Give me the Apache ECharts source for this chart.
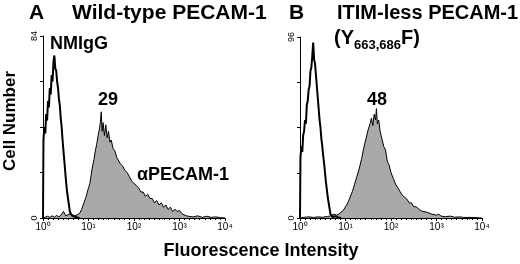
<!DOCTYPE html>
<html>
<head>
<meta charset="UTF-8">
<title>PECAM-1 flow cytometry</title>
<script src="https://cdn.jsdelivr.net/npm/echarts@6/dist/echarts.min.js"></script>
<style>
  html, body { margin: 0; padding: 0; background: #fff; }
  #chart { width: 520px; height: 264px; }
</style>
</head>
<body>
<div id="chart"></div>
<script>
// x = log10 fluorescence intensity (decades), y = cell number
const decadeLabels = ['10⁰', '10¹', '10²', '10³', '10⁴'];
const yMaxA = 84;
const yMaxB = 96;

// Panel A - wild-type PECAM-1
const nmiggA = [
  [0, 0], [0.01, 36], [0.03, 42], [0.05, 39], [0.07, 48], [0.09, 45], [0.11, 54], [0.13, 51],
  [0.15, 60], [0.17, 57], [0.19, 66], [0.21, 63], [0.23, 72], [0.25, 75], [0.27, 69], [0.29, 68],
  [0.31, 63], [0.33, 60], [0.35, 55], [0.37, 52], [0.39, 46], [0.41, 42], [0.43, 36], [0.45, 31],
  [0.47, 26], [0.49, 21], [0.51, 16], [0.53, 12], [0.55, 9], [0.57, 6], [0.59, 3], [0.61, 2],
  [0.64, 1], [0.68, 0.5], [0.75, 0.2], [0.8, 0]
];
const pecamA = [
  [0, 0], [0.05, 0.4], [0.1, 0.8], [0.15, 0.3], [0.2, 1], [0.25, 0.4], [0.3, 1.2], [0.35, 0.5],
  [0.4, 1.5], [0.45, 3], [0.5, 1], [0.55, 1.5], [0.6, 2], [0.65, 1.5], [0.7, 1], [0.75, 1.5],
  [0.8, 2], [0.85, 4], [0.9, 7], [0.95, 10], [1.0, 14], [1.03, 16], [1.06, 20], [1.09, 24],
  [1.12, 27], [1.15, 31], [1.18, 34], [1.21, 38], [1.24, 41], [1.26, 44], [1.28, 49], [1.30, 40],
  [1.32, 44], [1.35, 38], [1.38, 43], [1.41, 37], [1.44, 40], [1.47, 35], [1.50, 36], [1.54, 32],
  [1.58, 31], [1.62, 28], [1.66, 28], [1.70, 25], [1.75, 24], [1.80, 22], [1.85, 21], [1.90, 19],
  [1.95, 17], [2.00, 16], [2.05, 15], [2.10, 14], [2.15, 12], [2.20, 12], [2.25, 10], [2.30, 11],
  [2.35, 9], [2.40, 9], [2.45, 7], [2.50, 8], [2.55, 6], [2.60, 7], [2.65, 5], [2.70, 6],
  [2.75, 4], [2.80, 5], [2.85, 3], [2.90, 4], [2.95, 3], [3.00, 3.5], [3.05, 2], [3.10, 1.5],
  [3.15, 1], [3.20, 0.8], [3.30, 0.5], [3.40, 1], [3.50, 0.3], [3.60, 0.8], [3.70, 0.3],
  [3.80, 0.5], [3.90, 0.2], [4.0, 0]
];

// Panel B - ITIM-less PECAM-1
const nmiggB = [
  [0, 0], [0.01, 32], [0.03, 38], [0.05, 35], [0.07, 44], [0.09, 46], [0.11, 52], [0.13, 50],
  [0.15, 60], [0.17, 62], [0.19, 68], [0.21, 70], [0.23, 78], [0.25, 80], [0.27, 86], [0.29, 93],
  [0.31, 84], [0.33, 82], [0.35, 76], [0.37, 70], [0.39, 64], [0.41, 58], [0.43, 52], [0.45, 48],
  [0.47, 42], [0.49, 38], [0.51, 33], [0.53, 29], [0.55, 24], [0.57, 19], [0.59, 15], [0.61, 11],
  [0.63, 8], [0.65, 5], [0.67, 2], [0.69, 1], [0.72, 0.5], [0.78, 1], [0.84, 0.3], [0.9, 0]
];
const pecamB = [
  [0, 0], [0.1, 0.4], [0.2, 0.6], [0.3, 0.3], [0.4, 0.6], [0.5, 0.4], [0.6, 0.8], [0.65, 1],
  [0.7, 1.5], [0.75, 2], [0.8, 1.5], [0.85, 2], [0.9, 3], [0.95, 4], [1.0, 6], [1.05, 8],
  [1.10, 11], [1.15, 14], [1.20, 18], [1.25, 22], [1.30, 26], [1.35, 31], [1.40, 37], [1.45, 42],
  [1.50, 47], [1.54, 50], [1.57, 53], [1.60, 49], [1.63, 55], [1.66, 52], [1.68, 58], [1.70, 50],
  [1.73, 52], [1.76, 46], [1.80, 45], [1.84, 38], [1.88, 36], [1.92, 30], [1.96, 28], [2.00, 24],
  [2.05, 21], [2.10, 18], [2.15, 16], [2.20, 14], [2.25, 12], [2.30, 11], [2.35, 10], [2.40, 8],
  [2.45, 8], [2.50, 6], [2.55, 6], [2.60, 5], [2.65, 4], [2.70, 3.5], [2.80, 3], [2.90, 2],
  [3.00, 1.5], [3.05, 2], [3.10, 1], [3.20, 0.7], [3.30, 1], [3.40, 0.4], [3.50, 0.6],
  [3.60, 0.3], [3.80, 0.3], [4.0, 0]
];

const FONT = '"Liberation Sans", Arial, sans-serif';

function xAxisFor(gridIndex) {
  return {
    type: 'value', gridIndex: gridIndex, min: 0, max: 4, interval: 1,
    axisLine: { lineStyle: { color: '#000', width: 1 } },
    axisTick: { length: 3, lineStyle: { color: '#000' } },
    minorTick: { show: true, splitNumber: 9, length: 2, lineStyle: { color: '#000' } },
    axisLabel: {
      color: '#000', fontFamily: FONT, fontSize: 10, margin: 4,
      formatter: v => decadeLabels[v]
    },
    splitLine: { show: false }
  };
}
function yAxisFor(gridIndex, max) {
  return {
    type: 'value', gridIndex: gridIndex, min: 0, max: max, interval: max / 4,
    axisLine: { show: true, lineStyle: { color: '#000', width: 1 } },
    axisTick: { show: true, length: 3, lineStyle: { color: '#000' } },
    axisLabel: {
      color: '#000', fontFamily: FONT, fontSize: 9, rotate: 90, margin: 4,
      formatter: v => (v === 0 || v === max) ? String(v) : ''
    },
    splitLine: { show: false }
  };
}

const chart = echarts.init(document.getElementById('chart'), null, { renderer: 'canvas' });

const option = {
  animation: false,
  backgroundColor: '#fff',
  grid: [
    { left: 43, right: 295, top: 36, bottom: 46 },
    { left: 300, right: 38, top: 37, bottom: 46 }
  ],
  xAxis: [xAxisFor(0), xAxisFor(1)],
  yAxis: [yAxisFor(0, yMaxA), yAxisFor(1, yMaxB)],
  series: [
    {
      name: 'αPECAM-1 A', type: 'line', xAxisIndex: 0, yAxisIndex: 0, data: pecamA,
      showSymbol: false, lineStyle: { color: '#000', width: 1 },
      areaStyle: { color: '#a9a9a9', opacity: 1 }, z: 2
    },
    {
      name: 'NMIgG A', type: 'line', xAxisIndex: 0, yAxisIndex: 0, data: nmiggA,
      showSymbol: false, lineStyle: { color: '#000', width: 2 }, z: 3
    },
    {
      name: 'αPECAM-1 B', type: 'line', xAxisIndex: 1, yAxisIndex: 1, data: pecamB,
      showSymbol: false, lineStyle: { color: '#000', width: 1 },
      areaStyle: { color: '#a9a9a9', opacity: 1 }, z: 2
    },
    {
      name: 'NMIgG B', type: 'line', xAxisIndex: 1, yAxisIndex: 1, data: nmiggB,
      showSymbol: false, lineStyle: { color: '#000', width: 2 }, z: 3
    }
  ],
  graphic: [
    { type: 'text', style: { text: 'A', x: 29, y: 13, font: 'bold 21px ' + FONT, fill: '#000', textVerticalAlign: 'middle' } },
    { type: 'text', style: { text: 'Wild-type PECAM-1', x: 72, y: 13, font: 'bold 21px ' + FONT, fill: '#000', textVerticalAlign: 'middle' } },
    { type: 'text', style: { text: 'B', x: 289, y: 13, font: 'bold 21px ' + FONT, fill: '#000', textVerticalAlign: 'middle' } },
    { type: 'text', style: { text: 'ITIM-less PECAM-1', x: 337, y: 13, font: 'bold 20px ' + FONT, fill: '#000', textVerticalAlign: 'middle' } },
    {
      type: 'text', left: 334, top: 28,
      style: {
        text: '{b|(Y}{s|663,686}{b|F)}',
        rich: {
          b: { font: 'bold 20px ' + FONT, fill: '#000', lineHeight: 24, verticalAlign: 'top' },
          s: { font: 'bold 13px ' + FONT, fill: '#000', lineHeight: 24, padding: [11, 0, 0, 0], verticalAlign: 'top' }
        }
      }
    },
    { type: 'text', style: { text: 'NMIgG', x: 50, y: 44, font: 'bold 18px ' + FONT, fill: '#000', textVerticalAlign: 'middle' } },
    { type: 'text', style: { text: '29', x: 108, y: 100, font: 'bold 18px ' + FONT, fill: '#000', textAlign: 'center', textVerticalAlign: 'middle' } },
    { type: 'text', style: { text: 'αPECAM-1', x: 137, y: 175, font: 'bold 18px ' + FONT, fill: '#000', textVerticalAlign: 'middle' } },
    { type: 'text', style: { text: '48', x: 377, y: 100, font: 'bold 18px ' + FONT, fill: '#000', textAlign: 'center', textVerticalAlign: 'middle' } },
    {
      type: 'text', x: 10, y: 121, rotation: Math.PI / 2,
      style: { text: 'Cell Number', x: 0, y: 0, font: 'bold 17px ' + FONT, fill: '#000', textAlign: 'center', textVerticalAlign: 'middle' }
    },
    { type: 'text', style: { text: 'Fluorescence Intensity', x: 261, y: 251, font: 'bold 18px ' + FONT, fill: '#000', textAlign: 'center', textVerticalAlign: 'middle' } }
  ]
};

chart.setOption(option);
</script>
</body>
</html>
